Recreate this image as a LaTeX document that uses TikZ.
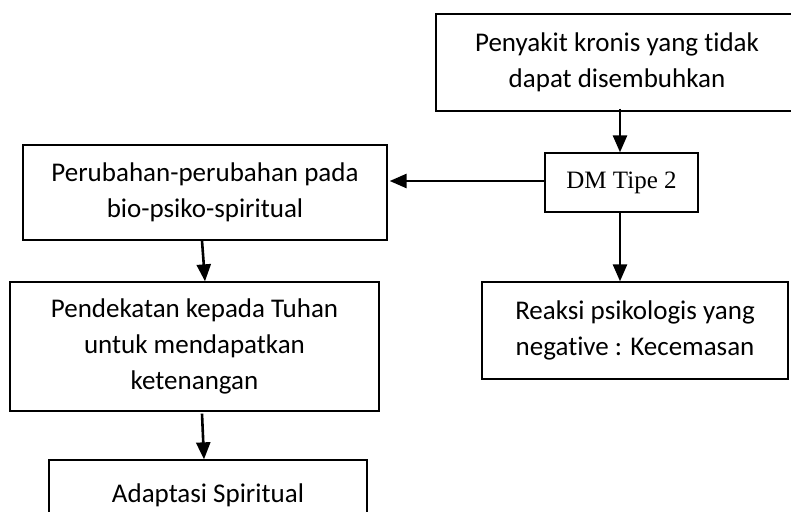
\documentclass[tikz,border=0pt]{standalone}
\usepackage{fontspec}
\setmainfont{Carlito}[Ligatures=NoCommon]
\newfontfamily\serifdm{Liberation Serif}
\usetikzlibrary{arrows.meta}
\begin{document}
\begin{tikzpicture}[x=1pt,y=-1pt,
  boxstyle/.style={draw=black,line width=1.3pt,rectangle,inner sep=0pt,align=center,
    font=\fontsize{27}{36}\selectfont},
  arr/.style={line width=2.6pt,-{Triangle[length=17pt,width=14pt]}}]
\useasboundingbox (0,0) rectangle (791,511);
\clip (0,0) rectangle (791,511);
\fill[white] (0,0) rectangle (791,511);
\node[boxstyle,minimum width=362pt,minimum height=97pt] (penyakit) at (617,62.5)
  {Penyakit kronis yang tidak\\dapat disembuhkan};
\node[boxstyle,minimum width=153pt,minimum height=59pt,font=\serifdm\fontsize{25}{30}\selectfont] (dm) at (621.5,182.5)
  {DM Tipe 2};
\node[boxstyle,minimum width=364pt,minimum height=95pt] (perub) at (205,192.5)
  {Perubahan-perubahan pada\\bio-psiko-spiritual};
\node[boxstyle,minimum width=369pt,minimum height=129pt] (pend) at (194.5,346.5)
  {Pendekatan kepada Tuhan\\untuk mendapatkan\\ketenangan};
\node[boxstyle,minimum width=318pt,minimum height=70pt] (adapt) at (208,495)
  {Adaptasi Spiritual};
\node[boxstyle,minimum width=306pt,minimum height=97pt] (reaksi) at (635,330.5)
  {Reaksi psikologis yang\\negative : Kecemasan};
\draw[arr] ([xshift=3pt,yshift=3pt]penyakit.south) -- ([xshift=-1.5pt]dm.north);
\draw[arr] ([yshift=1.5pt]dm.west) -- ([xshift=2pt,yshift=11.5pt]perub.east);
\draw[arr] ([xshift=-3pt]perub.south) -- ([xshift=10.5pt]pend.north);
\draw[arr] ([xshift=7.5pt,yshift=-2pt]pend.south) -- ([xshift=-4pt]adapt.north);
\draw[arr] ([xshift=-1.5pt]dm.south) -- ([xshift=-15pt]reaksi.north);
\end{tikzpicture}
\end{document}
